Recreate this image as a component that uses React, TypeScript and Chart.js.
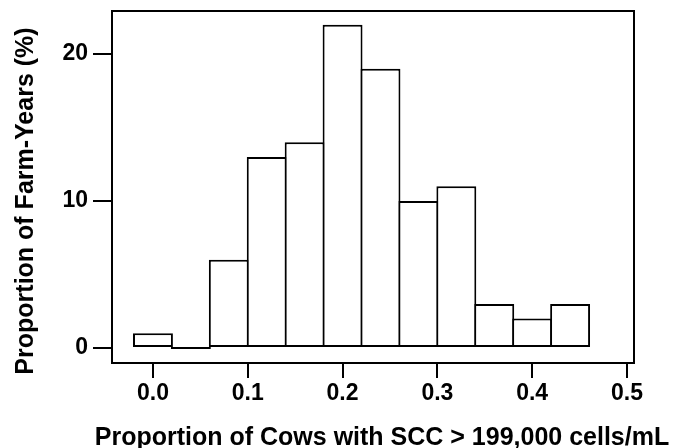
import React, { useEffect, useRef } from "react";
import { Chart, registerables } from "chart.js";

Chart.register(...registerables);

// Bin centres (bin width 0.04) and percentage of farm-years per bin
const binCenters = [0, 0.04, 0.08, 0.12, 0.16, 0.2, 0.24, 0.28, 0.32, 0.36, 0.4, 0.44];
const farmYearPct = [1, 0, 6, 13, 14, 22, 19, 10, 11, 3, 2, 3];
const xTickValues = [0, 0.1, 0.2, 0.3, 0.4, 0.5];
const yTickValues = [0, 10, 20];
const xTitle = "Proportion of Cows with SCC > 199,000 cells/mL";
const yTitle = "Proportion of Farm-Years (%)";

const FONT = "'Liberation Sans', Arial, Helvetica, sans-serif";

const frameAndTitles = {
  id: "frameAndTitles",
  afterDraw(chart: any) {
    const { ctx, chartArea } = chart;
    const { left, right, top, bottom } = chartArea;
    ctx.save();
    ctx.strokeStyle = "#000";
    ctx.lineWidth = 2;
    ctx.strokeRect(left, top, right - left, bottom - top);

    ctx.fillStyle = "#000";
    ctx.font = `bold 25px ${FONT}`;
    ctx.textAlign = "center";
    ctx.textBaseline = "alphabetic";
    ctx.fillText(xTitle, 382, 445);

    ctx.translate(33, 201);
    ctx.rotate(-Math.PI / 2);
    ctx.fillText(yTitle, 0, 0);
    ctx.restore();
  },
};

export default function App() {
  const canvasRef = useRef<HTMLCanvasElement | null>(null);

  useEffect(() => {
    document.body.style.margin = "0";
    const canvas = canvasRef.current;
    if (!canvas) return;
    const chart = new Chart(canvas, {
      type: "bar",
      data: {
        datasets: [
          {
            data: binCenters.map((c, i) => ({ x: c, y: farmYearPct[i] })),
            backgroundColor: "#ffffff",
            borderColor: "#000000",
            borderWidth: 2,
            borderSkipped: false,
            barPercentage: 1.0527,
            categoryPercentage: 1,
            minBarLength: 2,
            inflateAmount: 0,
          } as any,
        ],
      },
      options: {
        responsive: false,
        animation: false,
        devicePixelRatio: 1,
        layout: { padding: { top: 11, right: 41, left: 0, bottom: 0 } },
        plugins: {
          legend: { display: false },
          tooltip: { enabled: false },
          title: { display: false },
        },
        scales: {
          x: {
            type: "linear",
            offset: false,
            min: -0.0432,
            max: 0.5074,
            afterFit: (s: any) => {
              s.height = 85;
              s.paddingLeft = 0;
              s.paddingRight = 0;
              s.paddingTop = 0;
              s.paddingBottom = 0;
            },
            afterBuildTicks: (s: any) => {
              s.ticks = xTickValues.map((v) => ({ value: v }));
            },
            border: { display: false },
            grid: {
              offset: false,
              drawOnChartArea: false,
              drawTicks: true,
              tickLength: 15,
              color: "#000",
              lineWidth: 2,
            },
            ticks: {
              color: "#000",
              padding: 2,
              font: { family: FONT, size: 23, weight: "bold" },
              maxRotation: 0,
              callback: (v: any) => Number(v).toFixed(1),
            },
          },
          y: {
            type: "linear",
            min: -1.02,
            max: 22.93,
            afterFit: (s: any) => {
              s.width = 112;
              s.paddingLeft = 0;
              s.paddingRight = 0;
              s.paddingTop = 0;
              s.paddingBottom = 0;
            },
            afterBuildTicks: (s: any) => {
              s.ticks = yTickValues.map((v) => ({ value: v }));
            },
            border: { display: false },
            grid: {
              drawOnChartArea: false,
              drawTicks: true,
              tickLength: 19,
              color: "#000",
              lineWidth: 2,
            },
            ticks: {
              color: "#000",
              padding: 5,
              font: { family: FONT, size: 23, weight: "bold" },
              callback: (v: any) => String(v),
            },
          },
        },
      } as any,
      plugins: [frameAndTitles],
    });
    return () => chart.destroy();
  }, []);

  return (
    <div style={{ width: 675, height: 448 }}>
      <canvas ref={canvasRef} width={675} height={448} style={{ display: "block" }} />
    </div>
  );
}
